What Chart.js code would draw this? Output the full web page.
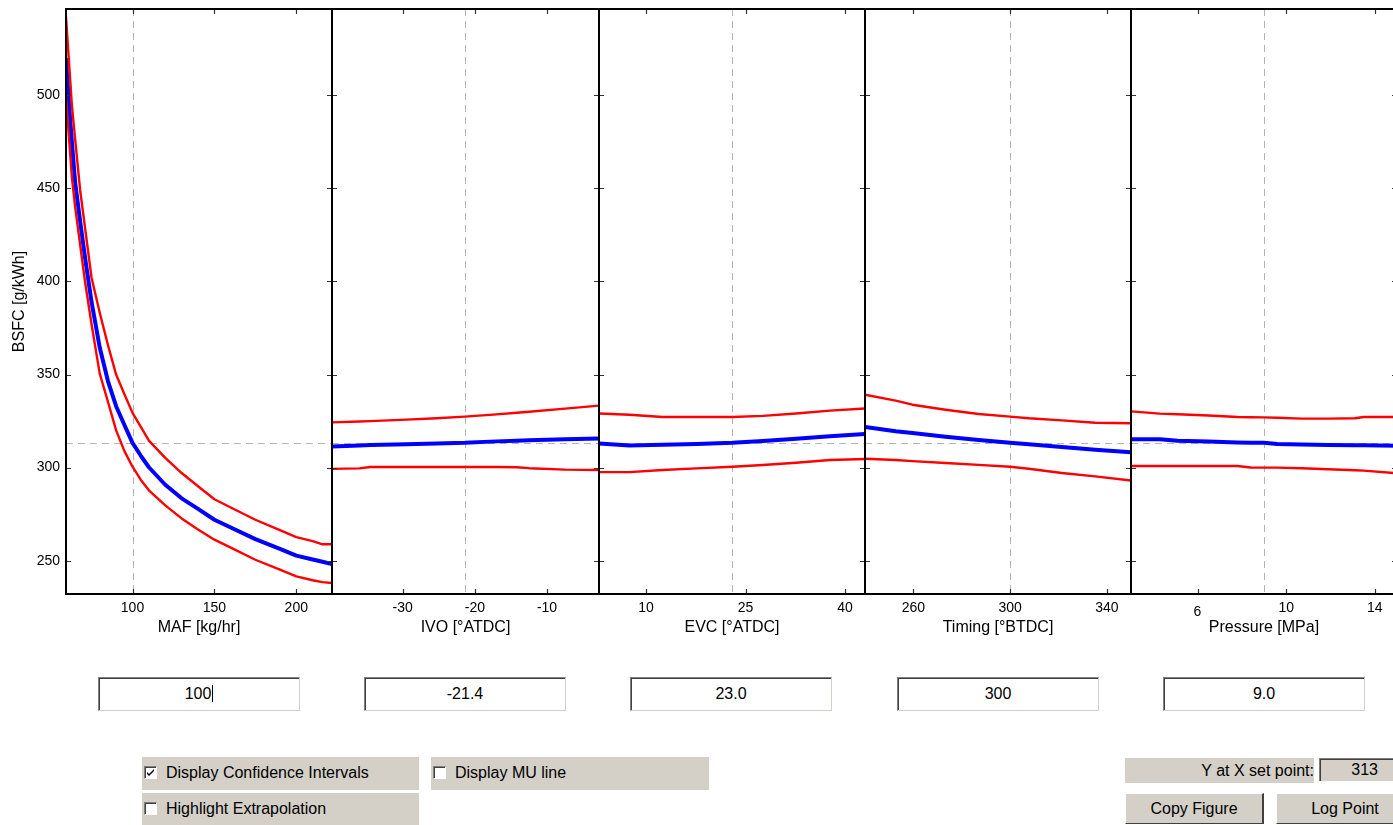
<!DOCTYPE html>
<html>
<head>
<meta charset="utf-8">
<title>BSFC prediction profile</title>
<script src="https://cdn.jsdelivr.net/npm/chart.js@4.4.1/dist/chart.umd.min.js"></script>
<style>
  html, body { margin: 0; padding: 0; background: #fff; }
  body {
    width: 1393px; height: 825px; position: relative; overflow: hidden;
    font-family: "Liberation Sans", Arial, Helvetica, sans-serif; color: #000;
  }
  canvas.panel { position: absolute; top: 0; }
  .edit {
    position: absolute; top: 677px; width: 202px; height: 34px; box-sizing: border-box;
    background: #fff;
    border-top: 1px solid #808080; border-left: 1px solid #808080;
    border-right: 1px solid #d4d0c8; border-bottom: 1px solid #d4d0c8;
    box-shadow: inset 1px 1px 0 #404040;
    font-size: 16px; line-height: 32px; text-align: center;
  }
  .edit .caret { border-right: 1px solid #000; padding-right: 1px; }
  .grey { position: absolute; background: #d4d0c8; font-size: 16px; }
  .chk {
    position: absolute; left: 2px; top: 9px; width: 13px; height: 13px; box-sizing: border-box;
    background: #fff;
    border-top: 1px solid #808080; border-left: 1px solid #808080;
    border-right: 1px solid #fff; border-bottom: 1px solid #fff;
    box-shadow: inset 1px 1px 0 #404040;
  }
  .chk svg { position: absolute; left: 1px; top: 1px; }
  .lbl { position: absolute; left: 24px; top: 7px; white-space: nowrap; }
  .valbox {
    position: absolute; left: 1319px; top: 758px; width: 80px; height: 23px; box-sizing: border-box;
    background: #d4d0c8;
    border-top: 1px solid #808080; border-left: 1px solid #808080;
    box-shadow: inset 1px 1px 0 #404040;
    font-size: 16px; line-height: 22px; text-align: right; padding-right: 21px;
  }
  .btn {
    position: absolute; top: 793px; width: 139px; height: 31px; box-sizing: border-box;
    background: #d4d0c8;
    border-top: 1px solid #fff; border-left: 1px solid #fff;
    border-right: 2px solid #404040; border-bottom: 1px solid #404040;
    font-size: 16px; line-height: 29px; text-align: center;
  }
</style>
</head>
<body>
<div id="panels"></div>

<div class="edit" style="left:98px;"><span class="caret" id="set0"></span></div>
<div class="edit" style="left:364px;" id="set1"></div>
<div class="edit" style="left:630px;" id="set2"></div>
<div class="edit" style="left:897px;" id="set3"></div>
<div class="edit" style="left:1163px;" id="set4"></div>

<div class="grey" style="left:142px; top:757px; width:277px; height:33px;">
  <div class="chk"><svg width="9" height="9" viewBox="0 0 9 9"><path d="M1 4 L3 6 L8 1 L8 3 L3 8 L1 6 Z" fill="#000"/></svg></div>
  <div class="lbl">Display Confidence Intervals</div>
</div>
<div class="grey" style="left:142px; top:793px; width:277px; height:32px;">
  <div class="chk"></div>
  <div class="lbl">Highlight Extrapolation</div>
</div>
<div class="grey" style="left:431px; top:757px; width:278px; height:33px;">
  <div class="chk"></div>
  <div class="lbl">Display MU line</div>
</div>

<div class="grey" style="left:1125px; top:758px; width:189px; height:25px; line-height:25px; text-align:right;">Y at X set point:</div>
<div class="valbox" id="yval"></div>
<div class="btn" style="left:1125px;">Copy Figure</div>
<div class="btn" style="left:1276px;">Log Point</div>

<script>
// ---- Response axis ----
const yTicks = [250, 300, 350, 400, 450, 500];
const yRange = [232.1, 546.4];
const yAtSetPoint = 313.3;

// ---- Factor set points (shown in the edit boxes) ----
const setPoints = [100, -21.4, 23.0, 300, 9.0];
const setPointText = ['100', '-21.4', '23.0', '300', '9.0'];

// ---- MAF [kg/hr] ----
const mafRange = [59.4, 221.8];
const mafTicks = [100, 150, 200];
const mafX     = [59.4, 61, 63, 65, 68, 71, 75, 80, 85, 90, 95, 100, 105, 110, 120, 130, 140, 150, 160, 175, 190, 200, 210, 216, 221.8];
const mafFit   = [520, 498, 475, 453, 432.5, 413, 389, 364.5, 346.5, 333, 323, 313.3, 306.5, 300.2, 290.8, 283.5, 277.8, 272, 267.8, 261.6, 256.3, 252.7, 250.6, 249.4, 248.2];
const mafUpper = [542, 521, 494.5, 476.3, 449.3, 429, 402, 383.2, 365.9, 350, 339.6, 329.4, 322, 314.5, 305.2, 297.1, 290, 283, 278.6, 272, 266.4, 262.7, 260.5, 258.8, 258.8];
const mafLower = [499.5, 480, 456, 440, 420, 400, 377, 350.5, 335.4, 320, 309, 300.5, 293.5, 287.8, 279.7, 272.7, 266.8, 261.3, 257, 250.5, 245.2, 241.6, 239.5, 238.5, 238];

// ---- IVO [°ATDC] ----
const ivoRange = [-39.8, -2.8];
const ivoTicks = [-30, -20, -10];
const ivoX     = [-39.8, -36, -34.5, -29.5, -25.3, -21.4, -17, -14.2, -12.5, -7.5, -2.8];
const ivoFit   = [311.4, 311.9, 312.1, 312.5, 313.0, 313.3, 314.1, 314.4, 314.7, 315.2, 315.7];
const ivoUpper = [324.3, 324.8, 325.0, 325.8, 326.5, 327.4, 328.6, 329.5, 330.0, 331.7, 333.3];
const ivoLower = [299.3, 299.6, 300.3, 300.3, 300.3, 300.3, 300.3, 300.2, 299.7, 298.9, 298.7];

// ---- EVC [°ATDC] ----
const evcRange = [2.9, 43.0];
const evcTicks = [10, 25, 40];
const evcX     = [2.9, 7.5, 12.5, 17.6, 23.0, 27.6, 32.6, 37.7, 43.0];
const evcFit   = [312.9, 311.9, 312.3, 312.7, 313.3, 314.3, 315.5, 316.8, 318.1];
const evcUpper = [329.1, 328.4, 327.2, 327.2, 327.2, 327.8, 329.1, 330.6, 331.8];
const evcLower = [297.6, 297.6, 298.7, 299.6, 300.5, 301.4, 302.6, 304.1, 304.6];

// ---- Timing [°BTDC] ----
const timRange = [240, 350];
const timTicks = [260, 300, 340];
const timX     = [240, 252.7, 259.6, 273.3, 287, 300, 307.7, 321.4, 335.2, 350];
const timFit   = [321.8, 319.5, 318.6, 316.6, 314.9, 313.3, 312.5, 311.1, 309.6, 308.2];
const timUpper = [339.2, 336.0, 333.8, 331.1, 328.8, 327.4, 326.5, 325.4, 324.1, 323.8];
const timLower = [304.8, 304.1, 303.5, 302.5, 301.5, 300.5, 299.4, 297.1, 295.3, 293.1];

// ---- Pressure [MPa] ----
const preRange = [3, 15];
const preTicks = [6, 10, 14];
const preX     = [3.0, 4.3, 5.1, 6.5, 7.8, 8.4, 9.0, 9.6, 10.7, 11.9, 13.1, 13.5, 15.0];
const preFit   = [315.2, 315.2, 314.5, 314.0, 313.5, 313.4, 313.3, 312.7, 312.4, 312.1, 312.0, 312.0, 311.8];
const preUpper = [330.2, 329.0, 328.7, 328.0, 327.2, 327.1, 327.0, 326.8, 326.3, 326.3, 326.5, 327.2, 327.2];
const preLower = [300.9, 300.9, 300.9, 300.9, 300.9, 300.1, 300.0, 300.0, 299.7, 299.1, 298.6, 298.4, 297.0];

// ---- Layout ----
const FONT = "'Liberation Sans', Arial, Helvetica, sans-serif";
const panelEdges = [66, 332, 599, 865, 1131, 1397];
const PLOT_TOP = 9, CANVAS_H = 650, XAXIS_H = 56, MARGIN = 6;

Chart.defaults.font.family = FONT;
Chart.defaults.color = '#000';

const factors = [
  { title: 'MAF [kg/hr]',    range: mafRange, ticks: mafTicks, x: mafX, fit: mafFit, upper: mafUpper, lower: mafLower },
  { title: 'IVO [°ATDC]',    range: ivoRange, ticks: ivoTicks, x: ivoX, fit: ivoFit, upper: ivoUpper, lower: ivoLower },
  { title: 'EVC [°ATDC]',    range: evcRange, ticks: evcTicks, x: evcX, fit: evcFit, upper: evcUpper, lower: evcLower },
  { title: 'Timing [°BTDC]', range: timRange, ticks: timTicks, x: timX, fit: timFit, upper: timUpper, lower: timLower },
  { title: 'Pressure [MPa]', range: preRange, ticks: preTicks, x: preX, fit: preFit, upper: preUpper, lower: preLower }
];

// Set-point cross-hairs below the curves, axes box with inward ticks on top.
const profilePlugin = {
  id: 'profile',
  beforeDatasetsDraw(chart, args, opts) {
    const { ctx, chartArea: a, scales: { x, y } } = chart;
    ctx.save();
    ctx.beginPath();
    ctx.rect(a.left, a.top, a.right - a.left, a.bottom - a.top);
    ctx.clip();
    ctx.strokeStyle = '#b4b4b4';
    ctx.lineWidth = 1;
    ctx.setLineDash([7, 5]);
    const vx = Math.round(x.getPixelForValue(opts.setPoint)) + 0.5;
    ctx.beginPath(); ctx.moveTo(vx, a.top); ctx.lineTo(vx, a.bottom); ctx.stroke();
    ctx.lineDashOffset = a.left - panelEdges[0];
    const hy = Math.round(y.getPixelForValue(yAtSetPoint)) + 0.5;
    ctx.beginPath(); ctx.moveTo(a.left, hy); ctx.lineTo(a.right, hy); ctx.stroke();
    ctx.restore();
  },
  afterDraw(chart, args, opts) {
    const { ctx, chartArea: a, scales: { x, y } } = chart;
    const T = 5;
    ctx.save();
    ctx.strokeStyle = '#333';
    ctx.lineWidth = 1.2;
    ctx.beginPath();
    opts.xTicks.forEach(v => {
      const px = Math.round(x.getPixelForValue(v)) + 0.5;
      ctx.moveTo(px, a.bottom); ctx.lineTo(px, a.bottom - T);
      ctx.moveTo(px, a.top); ctx.lineTo(px, a.top + T);
    });
    yTicks.forEach(v => {
      const py = Math.round(y.getPixelForValue(v)) + 0.5;
      ctx.moveTo(a.left, py); ctx.lineTo(a.left + T, py);
      ctx.moveTo(a.right, py); ctx.lineTo(a.right - T, py);
    });
    ctx.stroke();
    ctx.strokeStyle = '#000';
    ctx.lineWidth = 2;
    ctx.strokeRect(a.left, a.top, a.right - a.left, a.bottom - a.top);
    ctx.restore();
  }
};

// Fixed axis boxes so every panel shares the same plot rectangle.
function fixBox(s, size) {
  if (s.isHorizontal()) s.height = size; else s.width = size;
  s.paddingTop = 0; s.paddingBottom = 0; s.paddingLeft = 0; s.paddingRight = 0;
}

const holder = document.getElementById('panels');

factors.forEach((f, i) => {
  const first = i === 0;
  const left = first ? 0 : panelEdges[i] - MARGIN;
  const right = panelEdges[i + 1] + MARGIN;
  const canvas = document.createElement('canvas');
  canvas.className = 'panel';
  canvas.width = right - left;
  canvas.height = CANVAS_H;
  canvas.style.left = left + 'px';
  canvas.style.width = (right - left) + 'px';
  canvas.style.height = CANVAS_H + 'px';
  holder.appendChild(canvas);

  const line = (data, color, width) => ({
    data: f.x.map((v, k) => ({ x: v, y: data[k] })),
    borderColor: color,
    borderWidth: width,
    pointRadius: 0,
    tension: 0,
    fill: false,
    borderJoinStyle: 'round'
  });

  new Chart(canvas, {
    type: 'line',
    data: {
      datasets: [
        line(f.upper, '#ff0000', 2.4),
        line(f.lower, '#ff0000', 2.4),
        line(f.fit, '#0000ff', 4)
      ]
    },
    options: {
      responsive: false,
      animation: false,
      events: [],
      layout: { padding: { left: first ? 0 : MARGIN, right: MARGIN, top: PLOT_TOP, bottom: 0 } },
      plugins: {
        legend: { display: false },
        tooltip: { enabled: false },
        profile: { setPoint: setPoints[i], xTicks: f.ticks }
      },
      scales: {
        x: {
          type: 'linear',
          min: f.range[0],
          max: f.range[1],
          afterBuildTicks: s => { s.ticks = f.ticks.map(v => ({ value: v })); },
          afterFit: s => fixBox(s, XAXIS_H),
          grid: { display: false, drawTicks: false },
          border: { display: false },
          ticks: {
            padding: 6,
            color: '#000',
            maxRotation: 0,
            autoSkip: false,
            callback: v => String(v),
            // the "6" label of the pressure axis sits a little lower
            font: c => ({ family: FONT, size: 14,
              lineHeight: (i === 4 && c.tick && c.tick.value === 6) ? 1.7 : 1.2 })
          },
          title: {
            display: true, text: f.title, color: '#000',
            font: { family: FONT, size: 16 },
            padding: { top: 0, bottom: 13 }
          }
        },
        y: {
          type: 'linear',
          display: first,
          min: yRange[0],
          max: yRange[1],
          afterBuildTicks: s => { s.ticks = yTicks.map(v => ({ value: v })); },
          afterFit: s => fixBox(s, first ? panelEdges[0] : 0),
          grid: { display: false, drawTicks: false },
          border: { display: false },
          ticks: {
            padding: 6, color: '#000', autoSkip: false,
            callback: v => String(v),
            font: { family: FONT, size: 14 }
          },
          title: {
            display: first, text: 'BSFC [g/kWh]', color: '#000',
            font: { family: FONT, size: 16 },
            padding: { top: 10, bottom: 0 }
          }
        }
      }
    },
    plugins: [profilePlugin]
  });
});

// Edit boxes and the response read-out
setPointText.forEach((t, i) => { document.getElementById('set' + i).textContent = t; });
document.getElementById('yval').textContent = String(Math.round(yAtSetPoint));
</script>
</body>
</html>
